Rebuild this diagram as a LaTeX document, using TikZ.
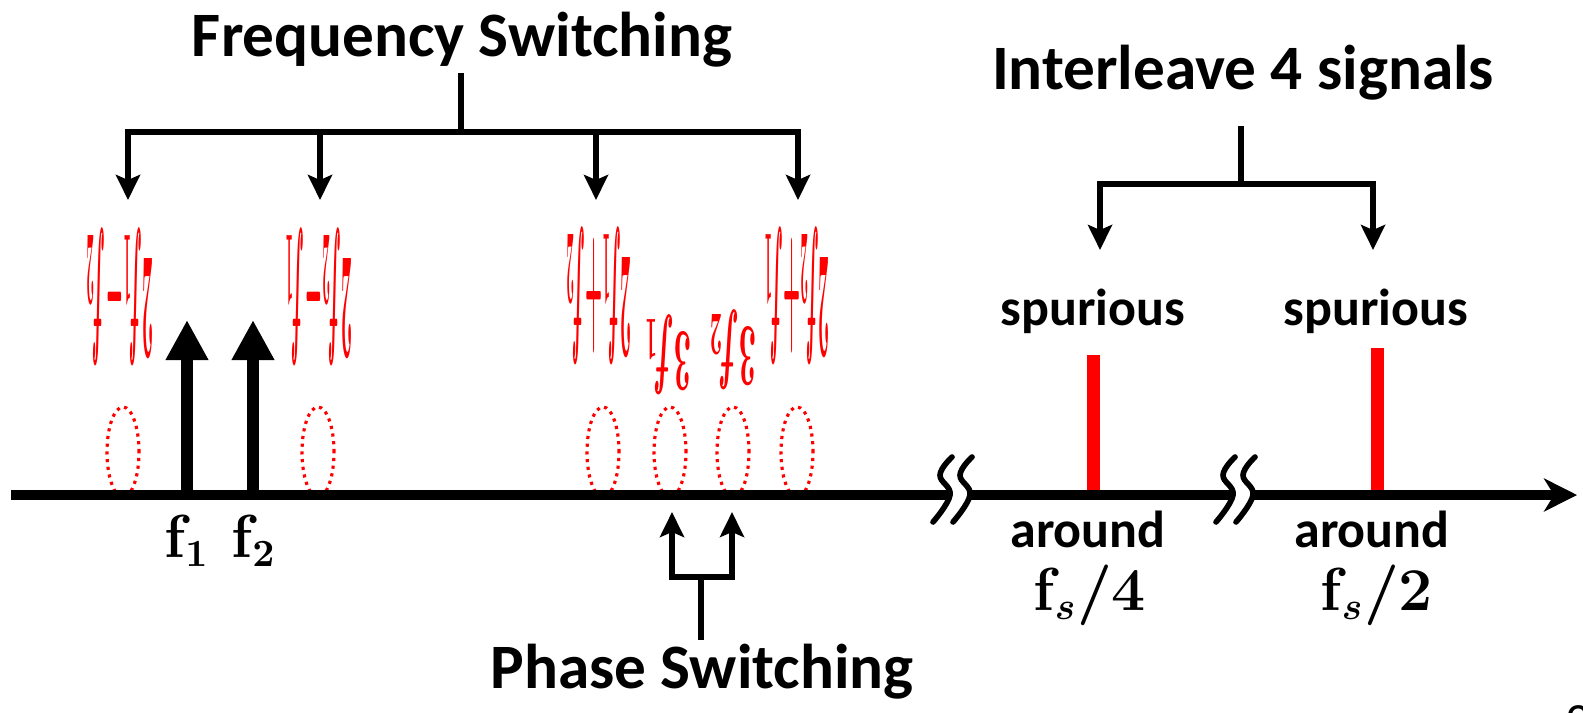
\documentclass[tikz,border=0pt]{standalone}
\usepackage[no-math]{fontspec}
\setmainfont{Carlito}
\usetikzlibrary{arrows.meta,shapes.geometric}

\begin{document}
\begin{tikzpicture}[
            heading/.style={
                    font=\fontsize{18}{20}\selectfont\bfseries,
                    anchor=base,
                    inner sep=0pt
                },
            word/.style={
                    font=\fontsize{14.8}{16}\selectfont\bfseries,
                    anchor=base,
                    inner sep=0pt
                },
            freq/.style={
                    font=\fontsize{16}{18}\selectfont\boldmath,
                    anchor=base,
                    inner sep=0pt
                },
            imd/.style={
                    text=red,
                    rotate=180,
                    inner sep=0pt,
                    font=\fontsize{20}{20}\selectfont\boldmath
                },
            wide/.style={xscale=0.265, yscale=2.1},
            narrow/.style={xscale=0.42, yscale=1.22},
            ring/.style={
                    draw=red,
                    ellipse,
                    line width=0.9pt,
                    dash pattern=on 0.9pt off 1.3pt,
                    minimum width=0.32cm,
                    minimum height=0.9cm,
                    inner sep=0pt
                },
            axisline/.style={line width=3.1pt},
            tone/.style={
                    line width=3.6pt,
                    -{Triangle[length=0.4cm, width=0.4cm]}
                },
            spike/.style={red, line width=3.7pt},
            stem/.style={line width=1.8pt},
            branch/.style={
                    stem,
                    -{Stealth[length=0.25cm, width=0.24cm, inset=0.05cm]}
                },
            brk/.style={line width=1.6pt, line cap=round}
        ]

        \useasboundingbox (0,0) rectangle (15.83,7.12);

        \coordinate (a0) at (0.11,2.17);
        \coordinate (a1) at (9.50,2.17);
        \coordinate (a2) at (9.70,2.17);
        \coordinate (a3) at (12.33,2.17);
        \coordinate (a4) at (12.53,2.17);
        \coordinate (a5) at (15.77,2.17);

        \node[heading] (fsw) at (4.62,6.56) {Frequency Switching};
        \node[heading] (ilv) at (12.43,6.23) {Interleave 4 signals};
        \node[heading] (phs) at (7.02,0.24) {Phase Switching};

        \node[ring] (o1) at (1.23,2.60) {};
        \node[ring] (o2) at (3.18,2.60) {};
        \node[ring] (o3) at (6.03,2.60) {};
        \node[ring] (o4) at (6.70,2.60) {};
        \node[ring] (o5) at (7.33,2.60) {};
        \node[ring] (o6) at (7.97,2.60) {};

        \node[imd, wide] (m1) at (1.20,4.15) {$2f_1{-}f_2$};
        \node[imd, wide] (m2) at (3.19,4.15) {$2f_2{-}f_1$};
        \node[imd, wide] (m3) at (5.99,4.16) {$2f_1{+}f_2$};
        \node[imd, narrow] (m4) at (6.68,3.57) {$3f_1$};
        \node[imd, narrow] (m5) at (7.33,3.62) {$3f_2$};
        \node[imd, wide] (m6) at (7.97,4.16) {$2f_2{+}f_1$};

        \node[freq] (f1) at (1.87,1.55) {$\mathbf{f}_{1}$};
        \node[freq] (f2) at (2.54,1.55) {$\mathbf{f}_{2}$};

        \node[word] (w1) at (10.93,3.87) {spurious};
        \node[word] (w2) at (13.76,3.87) {spurious};
        \node[word] (r1) at (10.88,1.65) {around};
        \node[word] (r2) at (13.72,1.65) {around};
        \node[freq] (q1) at (10.90,1.02) {$\mathbf{f}_s/4$};
        \node[freq] (q2) at (13.77,1.02) {$\mathbf{f}_s/2$};

        \node[inner sep=0pt, anchor=north, font=\fontsize{14}{14}\selectfont] (pg) at (15.78,0.07) {3};

        % tones and spurs
        \coordinate (t1) at (1.87,3.92);
        \coordinate (t2) at (2.53,3.92);
        \coordinate (k1) at (10.93,3.57);
        \coordinate (k2) at (13.77,3.64);
        \draw[tone] (t1 |- a0) -- (t1);
        \draw[tone] (t2 |- a0) -- (t2);
        \draw[spike] (k1 |- a0) -- (k1);
        \draw[spike] (k2 |- a0) -- (k2);

        % axis with breaks
        \draw[axisline] (a0) -- (a1);
        \draw[axisline] (a2) -- (a3);
        \draw[axisline, -{Stealth[length=0.33cm, width=0.33cm, inset=0.1cm]}] (a4) -- (a5);
        \foreach \b in {a1,a2,a3,a4}
            \draw[brk, shift={(\b)}] plot[smooth, tension=0.7] coordinates {(0.02,0.38) (-0.10,0.20) (0,0) (-0.17,-0.27)};

        % frequency switching
        \coordinate (fsw0) at (4.61,6.39);
        \coordinate (fsw1) at (4.61,5.80);
        \coordinate (d1) at (1.28,5.12);
        \coordinate (d2) at (3.20,5.12);
        \coordinate (d3) at (5.96,5.12);
        \coordinate (d4) at (7.98,5.12);
        \draw[stem] (fsw0) -- (fsw1);
        \foreach \d in {d1,d2,d3,d4}
            \draw[branch] (fsw1) -| (\d);

        % interleave
        \coordinate (ilv0) at (12.41,5.86);
        \coordinate (ilv1) at (12.41,5.28);
        \coordinate (s1) at (11.00,4.62);
        \coordinate (s2) at (13.73,4.62);
        \draw[stem] (ilv0) -- (ilv1);
        \foreach \s in {s1,s2}
            \draw[branch] (ilv1) -| (\s);

        % phase switching
        \coordinate (ph0) at (7.01,0.72);
        \coordinate (ph1) at (7.01,1.35);
        \coordinate (u1) at (6.72,2.00);
        \coordinate (u2) at (7.32,2.00);
        \draw[stem] (ph0) -- (ph1);
        \foreach \u in {u1,u2}
            \draw[branch] (ph1) -| (\u);

    \end{tikzpicture}
\end{document}
